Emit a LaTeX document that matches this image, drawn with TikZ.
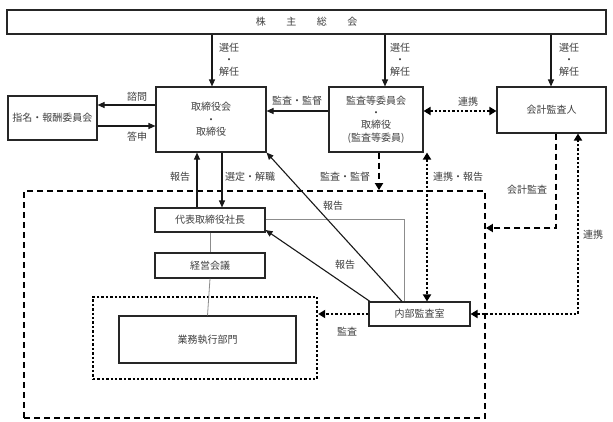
\documentclass[tikz,border=0pt]{standalone}
\usepackage{fontspec}
\setmainfont{Noto Sans CJK JP}
\usetikzlibrary{arrows.meta}
\begin{document}
\begin{tikzpicture}[x=1pt,y=-1pt,
 box/.style={draw=black!85,line width=1.1pt,rectangle,inner sep=0pt,text=black!75,font=\fontsize{10}{12.3}\selectfont,align=center},
 area/.style={rectangle,inner sep=0pt},
 lbl/.style={text=black!75,font=\fontsize{10}{12}\selectfont,inner sep=0pt,align=center},
 arr/.style={draw=black!90,line width=1.1pt,-{Triangle[length=7pt,width=6pt]}},
 thinl/.style={draw=black!45,line width=0.8pt},
 dsh/.style={draw=black,line width=1.8pt,dash pattern=on 6pt off 4pt},
 dtt/.style={draw=black,line width=2.4pt,dash pattern=on 2.4pt off 2pt},
 tipe/.style={-{Triangle[length=7pt,width=8pt]}},
 tipb/.style={{Triangle[length=7pt,width=8pt]}-{Triangle[length=7pt,width=8pt]}},
]
\useasboundingbox (0,0) rectangle (613,421);
\fill[white] (0,0) rectangle (613,421);

% areas
\node[area,dsh,draw,minimum width=461pt,minimum height=227pt] (execbox) at (254.5,304.5) {};
\node[area,dtt,draw,minimum width=224pt,minimum height=82pt] (gyomuarea) at (205,338) {};

% boxes
\node[box,minimum width=599pt,minimum height=24pt] (soukai) at (306.5,22) {株\hspace{20.5pt}主\hspace{20.5pt}総\hspace{20.5pt}会};
\node[box,minimum width=89pt,minimum height=44pt] (shimei) at (52.5,118) {指名・報酬委員会};
\node[box,minimum width=110pt,minimum height=65pt] (tori) at (211,119.5) {取締役会\\・\\取締役};
\node[box,minimum width=94pt,minimum height=65pt] (kansa) at (376,119.5) {監査等委員会\\・\\取締役\\(監査等委員)};
\node[box,minimum width=109pt,minimum height=46pt] (kaikei) at (551.5,110) {会計監査人};
\node[box,minimum width=110pt,minimum height=24pt] (daihyo) at (210,220) {代表取締役社長};
\node[box,minimum width=110pt,minimum height=25pt] (keiei) at (210,265.5) {経営会議};
\node[box,minimum width=177pt,minimum height=47pt] (gyomu) at (207.5,339.5) {業務執行部門};
\node[box,minimum width=101pt,minimum height=24pt] (naibu) at (419.5,314) {内部監査室};

% thin gray connectors
\draw[thinl] (daihyo.south) -- (keiei.north);
\draw[thinl] (keiei.south) -- (gyomu.north);
\draw[thinl] (daihyo.east |- 0,219) -| (naibu.north -| 404,0);

% election arrows
\draw[arr] (soukai.south -| 212,0) -- (tori.north -| 212,0);
\draw[arr] (soukai.south -| 385,0) -- (kansa.north -| 385,0);
\draw[arr] (soukai.south -| 551,0) -- (kaikei.north -| 551,0);
\node[lbl] (l1) at (229,60) {選任\\・\\解任};
\node[lbl] (l2) at (400,60) {選任\\・\\解任};
\node[lbl] (l3) at (569,60) {選任\\・\\解任};

% shimei
\draw[arr] (tori.west |- 0,105) -- (shimei.east |- 0,105);
\draw[arr] (shimei.east |- 0,126) -- (tori.west |- 0,126);
\node[lbl] (l4) at (137,97) {諮問};
\node[lbl] (l5) at (137,137) {答申};

% kansa -> tori
\draw[arr] (kansa.west |- 0,111) -- (tori.east |- 0,111);
\node[lbl] (l6) at (297,101) {監査・監督};

% kansa <-> kaikei
\draw[dtt,tipb] (kansa.east |- 0,111) -- (kaikei.west |- 0,111);
\node[lbl] (l7) at (468,102) {連携};

% kansa dashed down
\draw[dsh,tipe] (kansa.south -| 379,0) -- (execbox.north -| 379,0);
\node[lbl] (l8) at (345,177) {監査・監督};

% kansa <-> naibu
\draw[dtt,tipb] (kansa.south -| 427,0) -- (naibu.north -| 427,0);
\node[lbl] (l9) at (458,177) {連携・報告};

% kaikei dashed
\draw[dsh,tipe] (kaikei.south -| 556,0) |- (execbox.east |- 0,228);
\node[lbl] (l10) at (527,190) {会計監査};

% kaikei <-> naibu
\draw[dtt,tipb] (naibu.east) -| (kaikei.south -| 578,0);
\node[lbl] (l11) at (593,235) {連携};

% tori <-> daihyo
\draw[arr] (daihyo.north -| 197,0) -- (tori.south -| 197,0);
\draw[arr] (tori.south -| 222,0) -- (daihyo.north -| 222,0);
\node[lbl] (l12) at (180,177) {報告};
\node[lbl] (l13) at (250,177) {選定・解職};

% diagonals
\draw[arr] (naibu.north -| 402,0) -- (tori.south east);
\draw[arr] (naibu.north -| 370,0) -- (daihyo.east |- 0,230);
\node[lbl] (l14) at (333,206) {報告};
\node[lbl] (l15) at (345,265) {報告};

% naibu -> gyomu area
\draw[dtt,tipe] (naibu.west) -- (gyomuarea.east |- naibu.west);
\node[lbl] (l16) at (347,332) {監査};
\end{tikzpicture}
\end{document}
